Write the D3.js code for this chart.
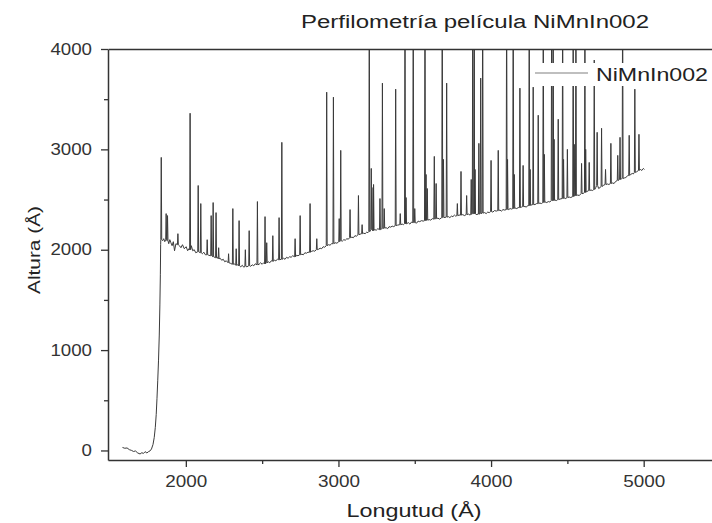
<!DOCTYPE html>
<html lang="es">
<head>
<meta charset="UTF-8">
<title>Perfilometría película NiMnIn002</title>
<style>
    body { margin: 0; background: #fff; }
    svg { display: block; font-family: 'Liberation Sans', Arial, sans-serif; }
    .tick text { fill: #333; font-size: 16px; }
    .tick line { stroke: #333; stroke-width: 1.3px; }
    .domain { stroke: #333; stroke-width: 1.5px; }
</style>
</head>
<body>
<svg id="chart" width="712" height="523"></svg>
<script src="https://cdn.jsdelivr.net/npm/d3@7"></script>
<script>
// tick values
var xMajor = [2000, 3000, 4000, 5000];
var xMinor = [2500, 3500, 4500];
var yMajor = [0, 1000, 2000, 3000, 4000];
var yMinor = [500, 1500, 2500, 3500];

var seriesName = 'NiMnIn002';

// baseline of the profile, [longitud, altura]
var baseline = [
    [1585, 30], [1600, 22], [1615, 25], [1630, 8], [1645, 0], [1657, -10], [1670, -5], [1685, -25],
    [1700, -35], [1712, -22], [1722, -30], [1733, -12], [1745, -25], [1755, -12], [1765, -5], [1775, 15],
    [1785, 60], [1793, 130], [1800, 230], [1806, 360], [1811, 520], [1816, 700], [1821, 900], [1826, 1150],
    [1830, 1450], [1833, 1750], [1835, 2050],
    [1848, 2090], [1855, 2110], [1862, 2080], [1888, 2060], [1895, 2100], [1902, 2070], [1910, 2040],
    [1918, 2080], [1926, 1990], [1935, 2060], [1958, 2040], [1968, 2020], [1978, 2050], [1990, 2010],
    [2002, 2030], [2012, 1990], [2020, 2010], [2036, 2040], [2045, 1990], [2055, 2000], [2065, 1970],
    [2108, 1960], [2118, 1975], [2128, 1950], [2150, 1945], [2206, 1925], [2225, 1915], [2235, 1895],
    [2245, 1905], [2255, 1880], [2265, 1890], [2292, 1865], [2318, 1860], [2340, 1850], [2360, 1830],
    [2370, 1845], [2380, 1825], [2400, 1830], [2425, 1835], [2435, 1850], [2445, 1840], [2455, 1860],
    [2480, 1855], [2490, 1870], [2500, 1855], [2510, 1870], [2540, 1880], [2550, 1870], [2560, 1890],
    [2580, 1895], [2590, 1890], [2600, 1905], [2640, 1915], [2650, 1905], [2660, 1925], [2670, 1915],
    [2680, 1930], [2690, 1925], [2700, 1940], [2725, 1945], [2735, 1940], [2760, 1955], [2770, 1950],
    [2780, 1970], [2790, 1965], [2800, 1975], [2825, 1985], [2835, 1990], [2845, 1985], [2870, 2005],
    [2880, 2015], [2890, 2010], [2900, 2030], [2910, 2025], [2935, 2050], [2945, 2045], [2955, 2060],
    [2978, 2070], [2990, 2065], [3025, 2085], [3035, 2100], [3045, 2095], [3055, 2110], [3065, 2105],
    [3088, 2125], [3098, 2120], [3108, 2140], [3118, 2135], [3142, 2155], [3165, 2165], [3175, 2160],
    [3185, 2175], [3193, 2170], [3238, 2200], [3248, 2195], [3258, 2210], [3312, 2220], [3322, 2210],
    [3332, 2230], [3342, 2225], [3352, 2235], [3362, 2230], [3387, 2245], [3418, 2255], [3426, 2250],
    [3448, 2260], [3458, 2270], [3468, 2255], [3478, 2275], [3512, 2265], [3522, 2285], [3532, 2280],
    [3545, 2290], [3555, 2285], [3595, 2300], [3605, 2295], [3615, 2310], [3652, 2315], [3662, 2305],
    [3692, 2320], [3720, 2330], [3730, 2320], [3740, 2335], [3750, 2330], [3760, 2345], [3768, 2335],
    [3790, 2345], [3815, 2350], [3825, 2340], [3852, 2355], [3862, 2345], [3902, 2350], [3958, 2370],
    [3968, 2360], [3978, 2375], [3988, 2370], [4012, 2375], [4022, 2390], [4034, 2385], [4058, 2395],
    [4068, 2385], [4078, 2400], [4090, 2395], [4115, 2400], [4125, 2410], [4135, 2405], [4158, 2415],
    [4168, 2410], [4178, 2420], [4200, 2425], [4222, 2430], [4232, 2425], [4240, 2440], [4262, 2445],
    [4288, 2450], [4298, 2460], [4320, 2465], [4330, 2460], [4355, 2475], [4365, 2470], [4375, 2480],
    [4385, 2475], [4418, 2495], [4428, 2490], [4452, 2505], [4480, 2515], [4490, 2510], [4512, 2525],
    [4522, 2520], [4568, 2545], [4578, 2540], [4603, 2560], [4628, 2580], [4655, 2595], [4665, 2590],
    [4686, 2620], [4705, 2610], [4714, 2620], [4735, 2640], [4762, 2655], [4772, 2650], [4796, 2665],
    [4806, 2660], [4816, 2680], [4853, 2705], [4873, 2715], [4883, 2720], [4893, 2735], [4915, 2750],
    [4925, 2760], [4932, 2755], [4952, 2775], [4978, 2800], [4988, 2790], [4998, 2810], [5005, 2800]
];

// spikes: [longitud, altura at foot, altura at peak]
var spikes = [
    [1839, 2100, 2920], [1871, 2100, 2360], [1880, 2090, 2340], [1948, 2050, 2160], [2028, 2000, 3360],
    [2081, 1980, 2640], [2098, 1970, 2460], [2140, 1950, 2100], [2166, 1940, 2340], [2179, 1930, 2470],
    [2198, 1920, 2370], [2215, 1910, 2020], [2280, 1870, 1960], [2308, 1855, 2410], [2330, 1845, 2010],
    [2349, 1840, 2290], [2390, 1835, 2000], [2415, 1840, 2190], [2469, 1850, 2480], [2519, 1860, 2330],
    [2530, 1870, 2070], [2570, 1885, 2140], [2611, 1900, 2320], [2629, 1905, 3070], [2716, 1930, 2110],
    [2749, 1950, 2340], [2814, 1975, 2460], [2858, 2000, 2110], [2923, 2040, 3570], [2967, 2060, 3520],
    [3005, 2080, 2310], [3015, 2090, 2990], [3076, 2120, 2400], [3131, 2150, 2540], [3155, 2160, 2250],
    [3202, 2180, 4600], [3215, 2200, 2810], [3227, 2190, 2620], [3272, 2200, 2510], [3288, 2210, 3660],
    [3300, 2215, 2410], [3375, 2240, 3600], [3405, 2250, 2360], [3436, 2260, 4700], [3490, 2270, 4600],
    [3500, 2270, 2410], [3567, 2290, 4800], [3582, 2295, 2610], [3628, 2305, 2930], [3640, 2310, 2660],
    [3680, 2320, 4700], [3709, 2325, 3660], [3779, 2340, 2460], [3803, 2345, 2780], [3840, 2350, 2540],
    [3880, 2360, 4700], [3890, 2360, 4600], [3920, 2355, 3060], [3932, 2360, 3710], [3945, 2365, 4800],
    [4000, 2380, 2890], [4047, 2390, 2990], [4102, 2400, 4700], [4145, 2410, 4800], [4189, 2420, 3610],
    [4210, 2430, 2840], [4250, 2440, 4700], [4276, 2450, 3620], [4309, 2460, 3340], [4342, 2470, 4600],
    [4397, 2490, 4700], [4407, 2490, 4600], [4440, 2500, 3300], [4469, 2510, 4700], [4500, 2520, 3000],
    [4538, 2530, 4600], [4556, 2540, 4700], [4593, 2560, 2860], [4615, 2570, 4600], [4643, 2590, 2870],
    [4676, 2600, 3890], [4695, 2640, 3170], [4724, 2630, 3210], [4750, 2650, 2800], [4785, 2660, 3060],
    [4830, 2690, 2940], [4845, 2700, 3120], [4862, 2710, 4700], [4905, 2740, 3140], [4942, 2770, 3600],
    [4969, 2790, 3150],
    // smaller side peaks
    [3230, 2195, 2650], [3443, 2258, 2520], [3574, 2292, 2750], [3688, 2322, 2900], [3870, 2352, 2700],
    [3895, 2358, 2800], [4108, 2402, 2900], [4152, 2412, 2750], [4256, 2442, 2800], [4349, 2472, 2950],
    [4413, 2492, 3100], [4475, 2512, 2900], [4545, 2535, 3050], [4620, 2575, 3000]
];

var svg = d3.select('#chart');
var W = 712, H = 523;
var mLeft = 108, mTop = 49, mBottom = 460, mRight = 720;

var x = d3.scaleLinear().domain([1490, 5500]).range([mLeft, mRight]);
var y = d3.scaleLinear().domain([-95, 4000]).range([mBottom, mTop]);
var fmt = d3.format('d');

// spike shape: foot, peak, foot
var points = baseline.slice();
spikes.forEach(function (s) {
    points.push([s[0] - 3, s[1]], [s[0], s[2]], [s[0] + 3, s[1]]);
});
points.sort(function (a, b) { return a[0] - b[0]; });

svg.append('defs').append('clipPath').attr('id', 'plot')
    .append('rect')
    .attr('x', mLeft).attr('y', mTop)
    .attr('width', W - mLeft).attr('height', mBottom - mTop);

var line = d3.line()
    .x(function (d) { return x(d[0]); })
    .y(function (d) { return y(d[1]); });

svg.append('path')
    .datum(points)
    .attr('clip-path', 'url(#plot)')
    .attr('d', line)
    .attr('fill', 'none')
    .attr('stroke', '#3a3a3a')
    .attr('stroke-width', 1)
    .attr('stroke-linejoin', 'round');

// axes
var gx = svg.append('g').attr('transform', 'translate(0,' + mBottom + ')')
    .call(d3.axisBottom(x).tickValues(xMajor).tickFormat(fmt).tickSize(7).tickSizeOuter(0));
gx.selectAll('text').attr('y', 27).attr('dy', null).attr('textLength', 42)
    .attr('lengthAdjust', 'spacingAndGlyphs');

svg.append('g').attr('transform', 'translate(0,' + mBottom + ')')
    .call(d3.axisBottom(x).tickValues(xMinor).tickSize(4).tickFormat(''))
    .select('.domain').remove();

var gy = svg.append('g').attr('transform', 'translate(' + mLeft + ',0)')
    .call(d3.axisLeft(y).tickValues(yMajor).tickFormat(fmt).tickSize(7).tickSizeOuter(0).tickPadding(9));
gy.selectAll('text').attr('textLength', function (d) { return fmt(d).length * 10.4; })
    .attr('lengthAdjust', 'spacingAndGlyphs');

svg.append('g').attr('transform', 'translate(' + mLeft + ',0)')
    .call(d3.axisLeft(y).tickValues(yMinor).tickSize(4).tickFormat(''))
    .select('.domain').remove();

// top frame line
svg.append('g').attr('transform', 'translate(0,' + mTop + ')')
    .call(d3.axisTop(x).tickValues([]).tickSizeOuter(0));

// titles
svg.append('text')
    .attr('x', 475).attr('y', 28)
    .attr('text-anchor', 'middle')
    .attr('font-size', 18)
    .attr('fill', '#222')
    .attr('textLength', 348)
    .attr('lengthAdjust', 'spacingAndGlyphs')
    .text('Perfilometría película NiMnIn002');

svg.append('text')
    .attr('x', 414).attr('y', 517)
    .attr('text-anchor', 'middle')
    .attr('font-size', 18)
    .attr('fill', '#222')
    .attr('textLength', 135)
    .attr('lengthAdjust', 'spacingAndGlyphs')
    .text('Longutud (Å)');

svg.append('text')
    .attr('transform', 'translate(40,250) rotate(-90)')
    .attr('text-anchor', 'middle')
    .attr('font-size', 17)
    .attr('fill', '#222')
    .attr('textLength', 88)
    .attr('lengthAdjust', 'spacingAndGlyphs')
    .text('Altura (Å)');

// legend
var lg = svg.append('g');
lg.append('rect').attr('x', 530).attr('y', 63).attr('width', W - 530).attr('height', 23).attr('fill', '#fff');
lg.append('line').attr('x1', 535).attr('x2', 588).attr('y1', 73).attr('y2', 73)
    .attr('stroke', '#aaa').attr('stroke-width', 1.5);
lg.append('text').attr('x', 596).attr('y', 81)
    .attr('font-size', 18).attr('fill', '#222')
    .attr('textLength', 112).attr('lengthAdjust', 'spacingAndGlyphs')
    .text(seriesName);
</script>
</body>
</html>
